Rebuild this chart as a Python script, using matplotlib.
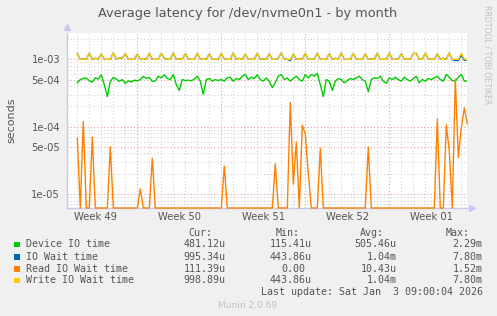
import numpy as np
import matplotlib.pyplot as plt
from matplotlib.patches import Rectangle
from matplotlib.ticker import NullLocator

# one sample every 6 hours, values in microseconds
step_days = 0.25

device_io = [448, 501, 520, 530, 480, 460, 530, 510, 590, 420, 280, 470, 540, 510, 470, 500,
             440, 480, 460, 490, 480, 500, 560, 520, 540, 470, 480, 560, 530, 590, 520, 500,
             594, 420, 345, 501, 484, 490, 480, 510, 562, 474, 300, 500, 519, 474, 501, 484,
             501, 474, 530, 543, 474, 519, 500, 562, 600, 501, 543, 519, 590, 500, 474, 530,
             470, 380,
             450, 562, 594, 501, 530, 474, 519, 562, 501, 474, 594, 530, 594, 562, 620, 420,
             280, 501, 474, 345, 474, 519, 501, 448, 484, 519, 501, 530, 562, 501, 474, 330,
             501,
             530, 519, 562, 474, 440, 530, 501, 543, 501, 474, 543, 501, 474, 519, 562, 448,
             501, 474, 519, 501, 530, 562, 501, 474, 594, 540, 484, 474, 543, 600, 474, 481]

write_wait = [1220, 1000, 1010, 1000, 1230, 1005, 1040, 1010, 1200, 1000, 1000, 1005,
              1240, 1010, 1050, 1040, 1210, 1000, 1000, 1000, 1190, 1010, 1030, 1005,
              1230, 1000, 1000, 1000, 1220, 1040, 1005, 1000, 1240, 1000, 1010, 1000,
              1210, 1005, 1000, 1000, 1230, 1000, 1030, 1010, 1200, 1000, 1000, 1005,
              1220, 1010, 1000, 1000, 1240, 1000, 1040, 1000, 1190, 1005, 1000, 1000,
              1230, 1000, 1010, 1000, 1210, 1000, 1000, 1040, 1240, 1010, 1000, 1000,
              1200, 1000, 1030, 1000, 1220, 1000, 1000, 1010, 1230, 1005, 1000, 1000,
              1210, 1000, 1040, 1000, 1240, 1000, 1000, 1005, 1220, 1010, 1000, 1000,
              1200, 1000, 1010, 1000, 1230, 1000, 1000, 1000, 1240, 1000, 1000, 1010,
              1210, 1000, 1030, 1000, 1220, 1230, 1000, 1005, 1230, 1010, 1000, 1000,
              1200, 1000, 1040, 1000, 1240, 1000, 1000, 1000, 1230, 1010, 999]

io_wait = [1220, 1000, 1010, 1000, 1230, 1005, 1040, 1010, 1200, 1000, 1000, 1005,
           1240, 1010, 1050, 1040, 1210, 1000, 1000, 1000, 1190, 1010, 1030, 1005,
           1230, 1000, 1000, 1000, 1220, 1040, 1005, 1000, 1240, 1000, 1010, 1000,
           1210, 1005, 1000, 1000, 1230, 1000, 1030, 1010, 1200, 1000, 1000, 1005,
           1220, 1010, 1000, 1000, 1240, 1000, 1040, 1000, 1190, 1005, 1000, 1000,
           1230, 1000, 1010, 1000, 1210, 1000, 1000, 1040, 1240, 1010, 1000, 960,
           1200, 1000, 1030, 1000, 1220, 1000, 1000, 1010, 1230, 1005, 1000, 1000,
           1210, 1000, 1040, 1000, 1240, 1000, 1000, 1005, 1220, 1010, 1000, 1000,
           1200, 1000, 1010, 1000, 1230, 1000, 1000, 1000, 1240, 1000, 1000, 1010,
           1210, 1000, 1030, 1000, 1220, 1230, 1000, 1005, 1230, 1010, 1000, 1000,
           1200, 1000, 1040, 1000, 1240, 985, 965, 960, 1150, 965, 995]

read_wait = [67, 0, 120, 0, 0, 70, 0, 0, 0, 0, 0, 50, 0, 0, 0, 0,
             0, 0, 0, 0, 0, 12, 0, 0, 0, 34, 0, 0, 0, 0, 0, 0,
             0, 0, 0, 0, 0, 0, 0, 0, 0, 0, 0, 0, 0, 0, 0, 0,
             0, 26, 0, 0, 0, 0, 0, 0, 0, 0, 0, 0, 0, 0, 0, 0,
             0, 0, 28, 0, 0, 0, 0, 230, 14, 59, 0, 105, 78, 20, 0, 0,
             0, 48, 0, 0, 0, 0, 0, 0, 0, 0, 0, 0, 0, 0, 0, 0,
             0, 50, 0, 0, 0, 0, 0, 0, 0, 0, 0, 0, 0, 0, 0, 0,
             0, 0, 0, 0, 0, 0, 0, 0, 130, 0, 0, 107, 43, 0, 510, 35,
             95, 190, 111]

week_labels = ['Week 49', 'Week 50', 'Week 51', 'Week 52', 'Week 01']
week_centers = [1.5, 8.5, 15.5, 22.5, 29.5]
week_starts = [5, 12, 19, 26]

y_ticks = [1e-5, 5e-5, 1e-4, 5e-4, 1e-3]
y_labels = ['1e-05', '5e-05', '1e-04', '5e-04', '1e-03']

names = ['Device IO time', 'IO Wait time', 'Read IO Wait time', 'Write IO Wait time']
colors = ['#00CC00', '#0066B3', '#FF8000', '#FFCC00']
cur = ['481.12u', '995.34u', '111.39u', '998.89u']
mins = ['115.41u', '443.86u', '0.00', '443.86u']
avgs = ['505.46u', '1.04m', '10.43u', '1.04m']
maxs = ['2.29m', '7.80m', '1.52m', '7.80m']

W, H = 497, 316
y_lo, y_hi = 6.2e-6, 2.46e-3
x_lo, x_hi = -0.858, 32.475

fig = plt.figure(figsize=(W / 100, H / 100), dpi=100, facecolor='#F0F0F0')
ax = fig.add_axes([67 / W, (H - 208) / H, 400 / W, 175 / H])
ax.set_facecolor('white')
ax.set_yscale('log')
ax.set_ylim(y_lo, y_hi)
ax.set_xlim(x_lo, x_hi)

# grid
dots = (0, (1, 2))
for d in range(0, 33):
    c = '#E6A0A0' if d in week_starts else '#D2D2D2'
    ax.axvline(d, color=c, lw=0.8, ls=dots, zorder=1)
for e in (-6, -5, -4, -3):
    for k in range(1, 10):
        v = k * 10.0 ** e
        if y_lo < v < y_hi:
            c = '#E6A0A0' if k in (1, 5) else '#D2D2D2'
            ax.axhline(v, color=c, lw=0.8, ls=dots, zorder=1)

t = np.arange(len(device_io)) * step_days
us = 1e-6
ax.plot(t, np.array(device_io) * us, color=colors[0], lw=1.0, zorder=3)
ax.plot(t, np.array(io_wait) * us, color=colors[1], lw=1.0, zorder=3)
ax.plot(t, np.maximum(np.array(read_wait) * us, y_lo), color=colors[2], lw=1.0, zorder=3,
        clip_on=False)
ax.plot(t, np.array(write_wait) * us, color=colors[3], lw=1.0, zorder=3)

for s in ['top', 'right']:
    ax.spines[s].set_visible(False)
for s in ['left', 'bottom']:
    ax.spines[s].set_color('#C8C8F0')
    ax.spines[s].set_linewidth(1.0)
ax.plot([0], [1.035], marker='^', ms=5, color='#C8C8F0', transform=ax.transAxes, clip_on=False)
ax.plot([1.012], [0], marker='>', ms=5, color='#C8C8F0', transform=ax.transAxes, clip_on=False)

ax.set_yticks(y_ticks)
ax.set_yticklabels(y_labels)
ax.yaxis.set_minor_locator(NullLocator())
ax.set_xticks(week_centers)
ax.set_xticklabels(week_labels)
ax.tick_params(length=0, labelsize=7.2, colors='#555555')
ax.tick_params(axis='y', pad=5)
ax.tick_params(axis='x', pad=3)

fig.text(248 / W, 1 - 13 / H, 'Average latency for /dev/nvme0n1 - by month',
         ha='center', va='center', fontsize=9.3, color='#555555')
fig.text(11 / W, 1 - 120 / H, 'seconds', rotation=90, ha='center', va='center',
         fontsize=8, color='#555555')
fig.text(487 / W, 1 - 5 / H, 'RRDTOOL / TOBI OETIKER', rotation=270, ha='center', va='top',
         fontsize=5.6, color='#C0C0C0')

mono = 'DejaVu Sans Mono'
fs = 7.2
tc = '#555555'
for x, h in zip([212.7, 299.3, 384.3, 470], ['Cur:', 'Min:', 'Avg:', 'Max:']):
    fig.text(x / W, 1 - 232.7 / H, h, ha='right', va='center', family=mono, fontsize=fs, color=tc)
rows = [244.3, 256.5, 268.5, 280.3]
for i, y in enumerate(rows):
    fig.patches.append(Rectangle((14 / W, 1 - (y + 3) / H), 5.5 / W, 5.5 / H,
                                 transform=fig.transFigure, facecolor=colors[i],
                                 edgecolor='none'))
    fig.text(26 / W, 1 - y / H, names[i], ha='left', va='center', family=mono, fontsize=fs, color=tc)
    ends = [225.7, 311.7, 396.7, 482.7]
    vals = [cur[i], mins[i], avgs[i], maxs[i]]
    for x, v in zip(ends, vals):
        if not v[-1].isalpha():
            x -= 6
        fig.text(x / W, 1 - y / H, v, ha='right', va='center', family=mono, fontsize=fs, color=tc)
fig.text(482.7 / W, 1 - 292.3 / H, 'Last update: Sat Jan  3 09:00:04 2026', ha='right', va='center',
         family=mono, fontsize=fs, color=tc)
fig.text(248 / W, 1 - 305 / H, 'Munin 2.0.69', ha='center', va='center', fontsize=6.5,
         color='#C0C0C0')

fig.savefig('out.png', dpi=100, facecolor='#F0F0F0')
